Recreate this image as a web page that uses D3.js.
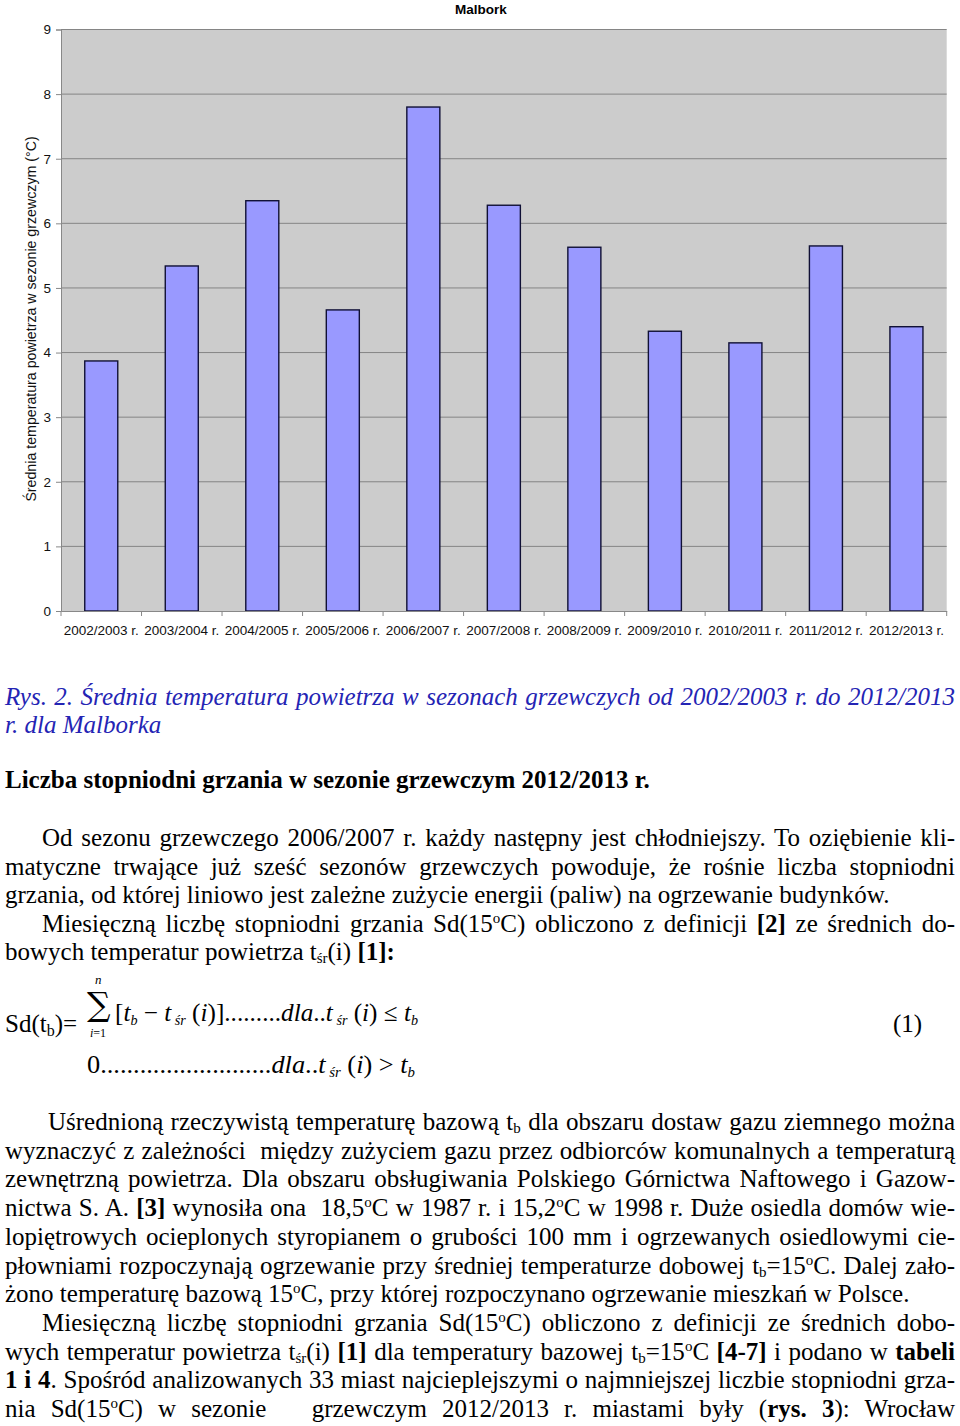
<!DOCTYPE html>
<html><head><meta charset="utf-8">
<script src="https://cdn.jsdelivr.net/npm/d3@7"></script>
<style>
html,body{margin:0;padding:0;background:#fff;}
svg{display:block;}
.body text{white-space:pre;}
</style></head>
<body>
<svg id="c" width="960" height="1426"></svg>
<script>
// ---- chart data ----
const title = "Malbork";
const yLabel = "Średnia temperatura powietrza w sezonie grzewczym (°C)";
const seasons = ["2002/2003 r.","2003/2004 r.","2004/2005 r.","2005/2006 r.","2006/2007 r.","2007/2008 r.","2008/2009 r.","2009/2010 r.","2010/2011 r.","2011/2012 r.","2012/2013 r."];
const temps = [3.87, 5.34, 6.35, 4.66, 7.80, 6.28, 5.63, 4.33, 4.15, 5.65, 4.40];
const yTicks = [0,1,2,3,4,5,6,7,8,9];

const svg = d3.select("#c");
const L = 61, R = 946.7, T = 29.5, B = 611;
const x = d3.scaleBand().domain(seasons).range([L, R]).padding(0);
const y = d3.scaleLinear().domain([0, 9]).range([B, T]);
const SANS = "Arial, 'Liberation Sans', sans-serif";

const g = svg.append("g");
g.append("rect").attr("x", L).attr("y", T).attr("width", R - L).attr("height", B - T).attr("fill", "#cccccc");
g.selectAll("line.grid").data(yTicks.filter(d => d > 0)).join("line")
  .attr("x1", L).attr("x2", R).attr("y1", d => y(d)).attr("y2", d => y(d))
  .attr("stroke", "#858585").attr("stroke-width", 1);
const bw = x.bandwidth() * 0.41;
g.selectAll("rect.bar").data(temps).join("rect")
  .attr("x", (d, i) => x(seasons[i]) + x.bandwidth() / 2 - bw / 2)
  .attr("y", d => y(d)).attr("width", bw).attr("height", d => B - y(d))
  .attr("fill", "#9999ff").attr("stroke", "#101035").attr("stroke-width", 1.4);
const ya = d3.axisLeft(y).tickValues(yTicks).tickSize(5).tickPadding(5);
const yg = g.append("g").attr("transform", `translate(${L},0)`).call(ya);
yg.select(".domain").attr("stroke", "#888");
yg.selectAll(".tick line").attr("stroke", "#888");
yg.selectAll(".tick text").attr("font-family", SANS).attr("font-size", 13.5).attr("fill", "#111");
const xa = d3.axisBottom(x).tickSize(0).tickPadding(0);
const xg = g.append("g").attr("transform", `translate(0,${B})`).call(xa);
xg.select(".domain").attr("stroke", "#888");
xg.selectAll(".tick text").attr("font-family", SANS).attr("font-size", 13.5).attr("fill", "#111").attr("dy", null).attr("y", 24);
const bounds = seasons.map(s => x(s)).concat([R]);
g.selectAll("line.xt").data(bounds).join("line")
  .attr("x1", d => d).attr("x2", d => d).attr("y1", B).attr("y2", B + 5).attr("stroke", "#888");
g.append("text").attr("x", 481).attr("y", 14).attr("text-anchor", "middle")
  .attr("font-family", SANS).attr("font-weight", "bold").attr("font-size", 13.5).text(title);
g.append("text").attr("transform", "translate(36,319) rotate(-90)").attr("text-anchor", "middle")
  .attr("font-family", SANS).attr("font-size", 14.2).attr("fill", "#111").text(yLabel);

// ---- body text ----
const FS = 25;
const lines = [
  {y:705, x:5, j:true, it:true, col:"#2424b4", s:[["n","Rys. 2. Średnia temperatura powietrza w sezonach grzewczych od 2002/2003 r. do 2012/2013"]]},
  {y:733, x:5, it:true, col:"#2424b4", s:[["n","r. dla Malborka"]]},
  {y:788, x:5, s:[["b","Liczba stopniodni grzania w sezonie grzewczym 2012/2013 r."]]},
  {y:846, x:42, j:true, s:[["n","Od sezonu grzewczego 2006/2007 r. każdy następny jest chłodniejszy. To oziębienie kli-"]]},
  {y:874.5, x:5, j:true, s:[["n","matyczne trwające już sześć sezonów grzewczych powoduje, że rośnie liczba stopniodni"]]},
  {y:903, x:5, s:[["n","grzania, od której liniowo jest zależne zużycie energii (paliw) na ogrzewanie budynków."]]},
  {y:931.5, x:42, j:true, s:[["n","Miesięczną liczbę stopniodni grzania Sd(15"],["sup","o"],["n","C) obliczono z definicji "],["b","[2]"],["n"," ze średnich do-"]]},
  {y:960, x:5, s:[["n","bowych temperatur powietrza t"],["sub","śr"],["n","(i) "],["b","[1]:"]]},
  {y:1130, x:48, j:true, s:[["n","Uśrednioną rzeczywistą temperaturę bazową t"],["sub","b"],["n"," dla obszaru dostaw gazu ziemnego można"]]},
  {y:1158.7, x:5, j:true, s:[["n","wyznaczyć z zależności  między zużyciem gazu przez odbiorców komunalnych a temperaturą"]]},
  {y:1187.4, x:5, j:true, s:[["n","zewnętrzną powietrza. Dla obszaru obsługiwania Polskiego Górnictwa Naftowego i Gazow-"]]},
  {y:1216.1, x:5, j:true, s:[["n","nictwa S. A. "],["b","[3]"],["n"," wynosiła ona  18,5"],["sup","o"],["n","C w 1987 r. i 15,2"],["sup","o"],["n","C w 1998 r. Duże osiedla domów wie-"]]},
  {y:1244.8, x:5, j:true, s:[["n","lopiętrowych ocieplonych styropianem o grubości 100 mm i ogrzewanych osiedlowymi cie-"]]},
  {y:1273.5, x:5, j:true, s:[["n","płowniami rozpoczynają ogrzewanie przy średniej temperaturze dobowej t"],["sub","b"],["n","=15"],["sup","o"],["n","C. Dalej zało-"]]},
  {y:1302.2, x:5, s:[["n","żono temperaturę bazową 15"],["sup","o"],["n","C, przy której rozpoczynano ogrzewanie mieszkań w Polsce."]]},
  {y:1330.9, x:42, j:true, s:[["n","Miesięczną liczbę stopniodni grzania Sd(15"],["sup","o"],["n","C) obliczono z definicji ze średnich dobo-"]]},
  {y:1359.6, x:5, j:true, s:[["n","wych temperatur powietrza t"],["sub","śr"],["n","(i) "],["b","[1]"],["n"," dla temperatury bazowej t"],["sub","b"],["n","=15"],["sup","o"],["n","C "],["b","[4-7]"],["n"," i podano w "],["b","tabeli"]]},
  {y:1388.3, x:5, j:true, s:[["b","1 i 4"],["n",". Spośród analizowanych 33 miast najcieplejszymi o najmniejszej liczbie stopniodni grza-"]]},
  {y:1417, x:5, j:true, s:[["n","nia Sd(15"],["sup","o"],["n","C) w sezonie   grzewczym 2012/2013 r. miastami były ("],["b","rys. 3"],["n","): Wrocław"]]}
];
const bodyG = svg.append("g").attr("class", "body")
  .attr("font-family", "'Times New Roman', 'Liberation Serif', serif").attr("font-size", FS).attr("fill", "#000");
lines.forEach(l => {
  const t = bodyG.append("text").attr("x", l.x).attr("y", l.y);
  if (l.it) t.attr("font-style", "italic");
  if (l.col) t.attr("fill", l.col);
  let full = "";
  l.s.forEach(([k, str]) => {
    full += str;
    const ts = t.append("tspan").text(str);
    if (k === "b") ts.attr("font-weight", "bold");
    if (k === "sup") ts.attr("font-size", 15).attr("baseline-shift", "60%");
    if (k === "sub") ts.attr("font-size", 15).attr("baseline-shift", "-22%");
  });
  if (l.j) {
    const nat = t.node().getComputedTextLength();
    const spaces = (full.match(/ /g) || []).length;
    const ws = (955 - l.x - nat) / spaces;
    t.attr("word-spacing", ws);
  }
});

// ---- formula ----
const fg = svg.append("g").attr("font-family", "'Times New Roman', 'Liberation Serif', serif").attr("fill", "#000");
fg.append("text").attr("x", 5).attr("y", 1032).attr("font-size", FS)
  .call(t => { t.append("tspan").text("Sd(t"); t.append("tspan").attr("font-size", 16).attr("baseline-shift", "-22%").text("b"); t.append("tspan").text(")="); });
fg.append("text").attr("x", 95).attr("y", 984).attr("font-size", 13).attr("font-style", "italic").text("n");
fg.append("text").attr("x", 87).attr("y", 1016).attr("font-size", 33).attr("font-family", "'DejaVu Serif', serif").text("∑");
fg.append("text").attr("x", 90).attr("y", 1037).attr("font-size", 12).call(t => {
  t.append("tspan").attr("font-style", "italic").text("i"); t.append("tspan").text("=1"); });
function fline(xp, yp, parts, width) {
  const t = fg.append("text").attr("x", xp).attr("y", yp).attr("font-size", FS).style("white-space", "pre");
  parts.forEach(([k, s]) => {
    const ts = t.append("tspan").text(s);
    if (k === "i") ts.attr("font-style", "italic");
    if (k === "sub") ts.attr("font-style", "italic").attr("font-size", 14).attr("baseline-shift", "-25%");
  });
  t.attr("textLength", width).attr("lengthAdjust", "spacingAndGlyphs");
}
fline(115, 1021, [["n","["],["i","t"],["sub","b"],["n"," − "],["i","t"],["sub"," śr"],["n"," ("],["i","i"],["n",")]........."],["i","dla"],["n",".."],["i","t"],["sub"," śr"],["n"," ("],["i","i"],["n",") ≤ "],["i","t"],["sub","b"]], 303);
fline(87, 1073, [["n","0.........................."],["i","dla"],["n",".."],["i","t"],["sub"," śr"],["n"," ("],["i","i"],["n",") > "],["i","t"],["sub","b"]], 328);
fg.append("text").attr("x", 893).attr("y", 1032).attr("font-size", FS).text("(1)");
</script>
</body></html>
